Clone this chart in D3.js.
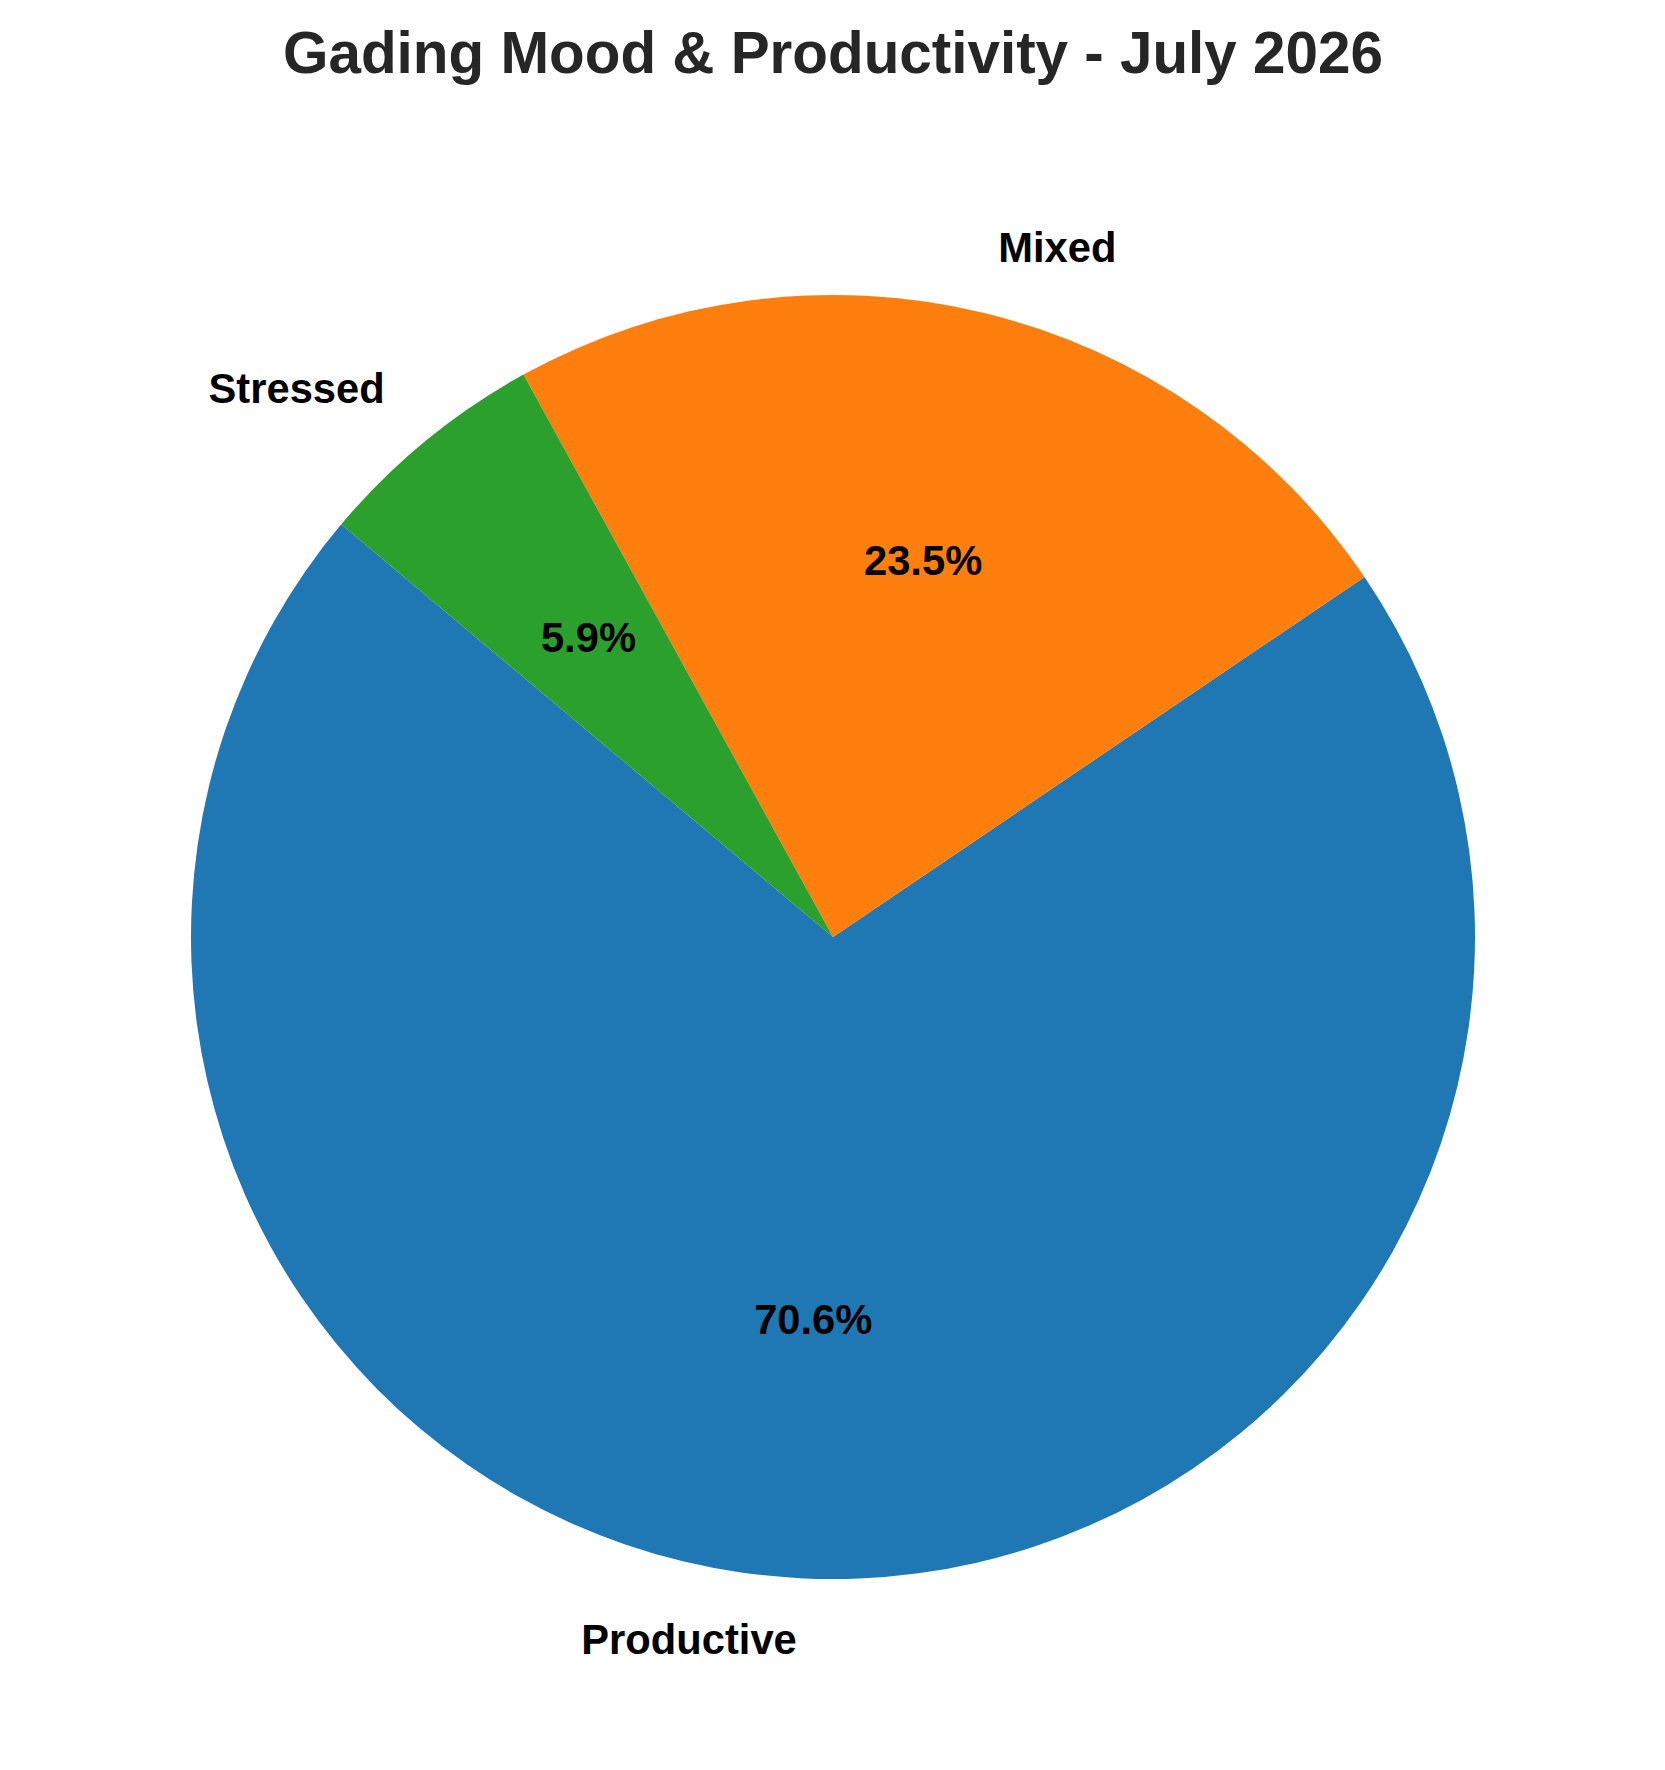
<!DOCTYPE html>
<html>
<head>
<meta charset="utf-8">
<script src="https://cdn.jsdelivr.net/npm/d3@7"></script>
<style>
  body { margin: 0; background: #fff; }
  text { font-family: "Liberation Sans", Arial, sans-serif; font-weight: bold; }
</style>
</head>
<body>
<div id="chart"></div>
<script>
// mood counts for the month (days)
var moods = ["Productive", "Mixed", "Stressed"];
var days = [12, 4, 1];
var colors = ["#1f77b4", "#ff7f0e", "#2ca02c"];
var title = "Gading Mood & Productivity - July 2026";

var width = 1665, height = 1770;
var cx = 833, cy = 937, radius = 642;

// matplotlib-like start angle 140deg, counterclockwise
var startDeg = 140;
var toRad = Math.PI / 180;
var a0 = (90 - startDeg) * toRad;

var svg = d3.select("#chart").append("svg")
    .attr("width", width)
    .attr("height", height);

svg.append("text")
    .attr("x", cx)
    .attr("y", 73)
    .attr("text-anchor", "middle")
    .attr("font-size", 58.4)
    .attr("fill", "#262626")
    .text(title);

var data = moods.map(function(m, i) {
    return { mood: m, days: days[i], color: colors[i] };
});
var total = d3.sum(days);

var pie = d3.pie()
    .value(function(d) { return d.days; })
    .sort(null)
    .startAngle(a0)
    .endAngle(a0 - 2 * Math.PI);

var arcs = pie(data);

var arc = d3.arc().innerRadius(0).outerRadius(radius);
var labelArc = d3.arc().innerRadius(radius * 1.1).outerRadius(radius * 1.1);
var pctArc = d3.arc().innerRadius(radius * 0.6).outerRadius(radius * 0.6);

var g = svg.append("g").attr("transform", "translate(" + cx + "," + cy + ")");

g.selectAll(".slice")
    .data(arcs)
    .join("path")
    .attr("class", "slice")
    .attr("d", arc)
    .attr("fill", function(d) { return d.data.color; });

// outer category labels
g.selectAll(".label")
    .data(arcs)
    .join("text")
    .attr("class", "label")
    .attr("x", function(d) { return labelArc.centroid(d)[0]; })
    .attr("y", function(d) { return labelArc.centroid(d)[1]; })
    .attr("dy", "0.27em")
    .attr("text-anchor", function(d) { return labelArc.centroid(d)[0] > 0 ? "start" : "end"; })
    .attr("font-size", 41.7)
    .attr("fill", "#000")
    .text(function(d) { return d.data.mood; });

// percentages inside
g.selectAll(".pct")
    .data(arcs)
    .join("text")
    .attr("class", "pct")
    .attr("x", function(d) { return pctArc.centroid(d)[0]; })
    .attr("y", function(d) { return pctArc.centroid(d)[1]; })
    .attr("dy", "0.29em")
    .attr("text-anchor", "middle")
    .attr("font-size", 41.7)
    .attr("fill", "#000")
    .text(function(d) { return (d.data.days / total * 100).toFixed(1) + "%"; });
</script>
</body>
</html>
